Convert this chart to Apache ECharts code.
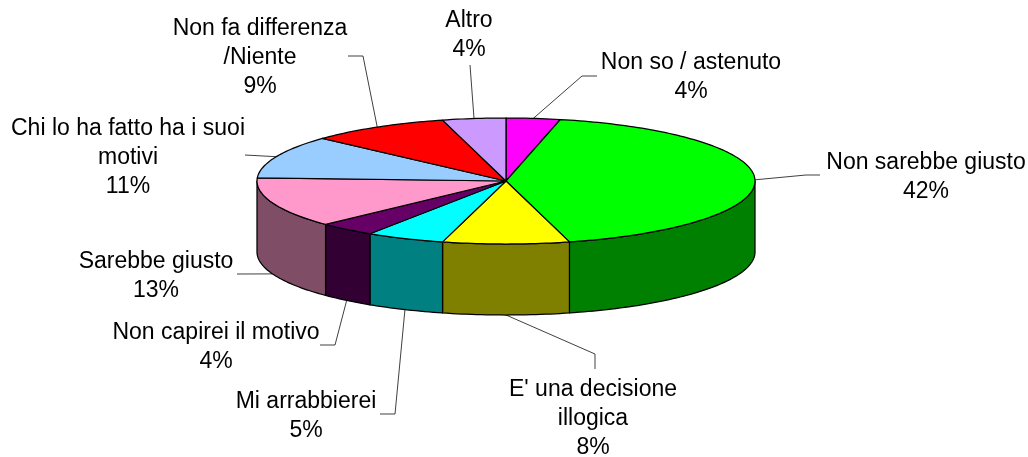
<!DOCTYPE html>
<html><head><meta charset="utf-8">
<style>html,body{margin:0;padding:0;background:#fff}#c{width:1028px;height:457px}</style>
<script src="https://cdn.jsdelivr.net/npm/echarts@6/dist/echarts.min.js"></script>
</head><body><div id="c"></div>
<script>
const categories = ["Non so / astenuto","Non sarebbe giusto","E' una decisione\nillogica","Mi arrabbierei","Non capirei il motivo","Sarebbe giusto","Chi lo ha fatto ha i suoi\nmotivi","Non fa differenza\n/Niente","Altro"];
const values = [3.5,42.4,8.2,5.1,3.7,12.9,11,9.1,4.1];
const topColors = ["#FF00FF","#00FF00","#FFFF00","#00FFFF","#660066","#FF99CC","#99CCFF","#FF0000","#CC99FF"];
const sideColors = ["#800080","#008000","#808000","#008080","#330033","#804D66","#4D6680","#800000","#664D80"];
// layout only: pie geometry, label centres and leader elbows
const pie = {cx:506, cy:181, rx:249, ry:63, depth:71};
const labelCentres = [[691,77],[926,177],[593,419],[306,416],[216,347],[156,276],[128,158],[260,58],[469,35]];
const leaderElbows = [[[582,76],[597,76]],[[806,175],[820,175]],[[595,354],[595,369]],[[395,414],[380,414]],[[335,345],[320,345]],[[237,274]],[[245,155]],[[363,56],[348,56]],[[470,65]]];

const total = values.reduce((a,b)=>a+b,0);
let acc = 0;
const spans = values.map(v=>{const s=acc/total*Math.PI*2; acc+=v; return [s,acc/total*Math.PI*2];});
const pt = (a,dy)=>[pie.cx+pie.rx*Math.sin(a), pie.cy-pie.ry*Math.cos(a)+(dy||0)];
function arc(a0,a1,dy){const n=Math.max(2,Math.ceil((a1-a0)/0.02));const p=[];for(let i=0;i<=n;i++)p.push(pt(a0+(a1-a0)*i/n,dy));return p;}
const lineStyle={stroke:'#000',lineWidth:1.25,lineJoin:'round'};

function renderSide(params){
  const i=params.dataIndex,[s,e]=spans[i];
  const a0=Math.max(s,Math.PI/2), a1=Math.min(e,Math.PI*1.5);
  if(a1<=a0) return {type:'group',children:[]};
  const upper=arc(a0,a1,0), lower=arc(a0,a1,pie.depth).reverse();
  return {type:'polygon',shape:{points:upper.concat(lower)},style:Object.assign({fill:sideColors[i]},lineStyle)};
}
function renderTop(params){
  const i=params.dataIndex,[s,e]=spans[i];
  return {type:'polygon',shape:{points:[[pie.cx,pie.cy]].concat(arc(s,e,0))},style:Object.assign({fill:topColors[i]},lineStyle)};
}
function renderLabel(params){
  const i=params.dataIndex,[s,e]=spans[i],m=(s+e)/2;
  const front=m>Math.PI/2&&m<Math.PI*1.5;
  const start=pt(m,front?pie.depth:0);
  const line=[start].concat(leaderElbows[i]);
  const [x,y]=labelCentres[i];
  return {type:'group',children:[
    {type:'polyline',shape:{points:line},style:{stroke:'#000',lineWidth:0.75,fill:null}},
    {type:'text',x:x,y:y,style:{text:categories[i]+'\n'+Math.round(values[i])+'%',fill:'#000',font:'23px "Liberation Sans", Arial, sans-serif',align:'center',verticalAlign:'middle',lineHeight:29}}
  ]};
}
const data=values.map((v,i)=>({name:categories[i],value:v}));
const chart=echarts.init(document.getElementById('c'),null,{renderer:'canvas'});
chart.setOption({
  animation:false,backgroundColor:'#fff',
  xAxis:{show:false},yAxis:{show:false},
  series:[
    {type:'custom',coordinateSystem:'none',renderItem:renderLabel,data:data,z:1,silent:true},
    {type:'custom',coordinateSystem:'none',renderItem:renderSide,data:data,z:2,silent:true},
    {type:'custom',coordinateSystem:'none',renderItem:renderTop,data:data,z:3,silent:true}
  ]
});
</script></body></html>
